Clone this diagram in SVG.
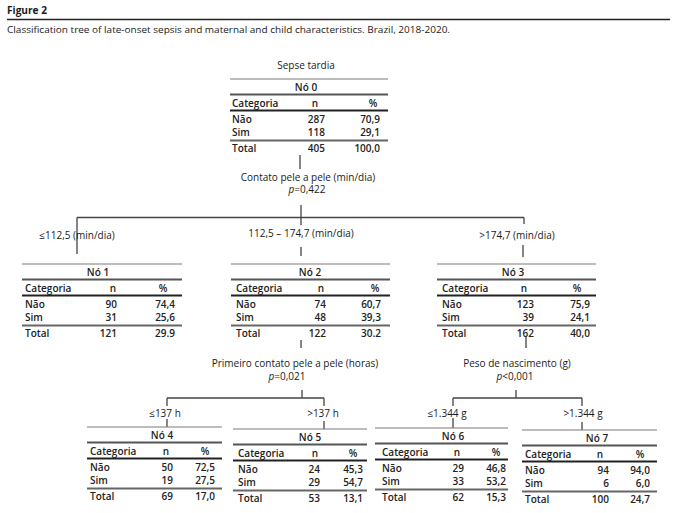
<svg xmlns="http://www.w3.org/2000/svg" width="679" height="513" viewBox="0 0 679 513">
<style>
text{font-family:"Open Sans","Noto Sans","Liberation Sans",sans-serif;fill:#1a1a1a}
.lbl{font-size:10px;text-anchor:middle}
.t{font-size:10px;font-weight:600;fill:#222}
.m{text-anchor:middle}
.e{text-anchor:end}
.top{stroke:#7a7a7a;stroke-width:1.2}
.l1{stroke:#555;stroke-width:2}
.l2{stroke:#222;stroke-width:2}
.l3{stroke:#666;stroke-width:2}
.c{stroke:#444;stroke-width:1.3;fill:none}
</style>
<rect width="679" height="513" fill="#fff"/>
<g id="header">
<text x="7" y="14" style="font-size:10.5px;font-weight:700" textLength="40" lengthAdjust="spacingAndGlyphs">Figure 2</text>
<line x1="7" y1="19.5" x2="670" y2="19.5" stroke="#222" stroke-width="1.3"/>
<text x="7" y="33" style="font-size:9px" textLength="443" lengthAdjust="spacingAndGlyphs">Classification tree of late-onset sepsis and maternal and child characteristics. Brazil, 2018-2020.</text>
</g>
<g id="connectors">
<path class="c" d="M300 155V169M301 205V217.5M77 217.5H524M77 217.5V254M301 217.5V225M301 247V256M524 217.5V224M523 245V257"/>
<path class="c" d="M301 340V348M302 390V398M167 398H324M167 398V406M167 419V427M324 398V406M324 421V429"/>
<path class="c" d="M526 337V348M516 390V398M453 398H582M453 398V406M453 418V428M582 398V406M582 422V430"/>
</g>
<g id="labels">
<text class="lbl" x="306" y="68.5">Sepse tardia</text>
<text class="lbl" x="308" y="180.5">Contato pele a pele (min/dia)</text>
<text class="lbl" x="307" y="193"><tspan font-style="italic">p</tspan>=0,422</text>
<text class="lbl" x="77" y="238.5">≤112,5 (min/dia)</text>
<text class="lbl" x="301" y="236.5">112,5 – 174,7  (min/dia)</text>
<text class="lbl" x="517" y="238.5">&gt;174,7  (min/dia)</text>
<text class="lbl" x="295" y="367">Primeiro contato pele a pele (horas)</text>
<text class="lbl" x="287" y="379.5"><tspan font-style="italic">p</tspan>=0,021</text>
<text class="lbl" x="165" y="416.5">≤137 h</text>
<text class="lbl" x="323" y="416.5">&gt;137 h</text>
<text class="lbl" x="517" y="367">Peso de nascimento (g)</text>
<text class="lbl" x="515" y="379.5"><tspan font-style="italic">p</tspan>&lt;0,001</text>
<text class="lbl" x="447" y="416.5">≤1.344 g</text>
<text class="lbl" x="583" y="416.5">&gt;1.344 g</text>
</g>
<g id="node0" transform="translate(0,79)">
<line class="top" x1="230" y1="0" x2="388" y2="0"/>
<text class="t m" x="306" y="11.5">Nó 0</text>
<line class="l1" x1="230" y1="15.5" x2="388" y2="15.5"/>
<text class="t" x="232" y="27.5">Categoria</text><text class="t m" x="315" y="27.5">n</text><text class="t m" x="373" y="27.5">%</text>
<line class="l2" x1="230" y1="31.5" x2="388" y2="31.5"/>
<text class="t" x="232" y="43.5">Não</text><text class="t e" x="325" y="43.5">287</text><text class="t e" x="380" y="43.5">70,9</text>
<text class="t" x="232" y="56.5">Sim</text><text class="t e" x="325" y="56.5">118</text><text class="t e" x="380" y="56.5">29,1</text>
<line class="l3" x1="230" y1="61.5" x2="388" y2="61.5"/>
<text class="t" x="232" y="72.5">Total</text><text class="t e" x="325" y="72.5">405</text><text class="t e" x="380" y="72.5">100,0</text>
</g>
<g id="node1" transform="translate(0,264)">
<line class="top" x1="22" y1="0" x2="182" y2="0"/>
<text class="t m" x="98" y="11.5">Nó 1</text>
<line class="l1" x1="22" y1="15.5" x2="182" y2="15.5"/>
<text class="t" x="25" y="27.5">Categoria</text><text class="t m" x="113" y="27.5">n</text><text class="t m" x="163" y="27.5">%</text>
<line class="l2" x1="22" y1="31.5" x2="182" y2="31.5"/>
<text class="t" x="25" y="43.5">Não</text><text class="t e" x="117" y="43.5">90</text><text class="t e" x="175" y="43.5">74,4</text>
<text class="t" x="25" y="56.5">Sim</text><text class="t e" x="117" y="56.5">31</text><text class="t e" x="175" y="56.5">25,6</text>
<line class="l3" x1="22" y1="61.5" x2="182" y2="61.5"/>
<text class="t" x="25" y="72.5">Total</text><text class="t e" x="117" y="72.5">121</text><text class="t e" x="175" y="72.5">29.9</text>
</g>
<g id="node2" transform="translate(0,264)">
<line class="top" x1="231" y1="0" x2="390" y2="0"/>
<text class="t m" x="310" y="11.5">Nó 2</text>
<line class="l1" x1="231" y1="15.5" x2="390" y2="15.5"/>
<text class="t" x="236" y="27.5">Categoria</text><text class="t m" x="321" y="27.5">n</text><text class="t m" x="375" y="27.5">%</text>
<line class="l2" x1="231" y1="31.5" x2="390" y2="31.5"/>
<text class="t" x="236" y="43.5">Não</text><text class="t e" x="326" y="43.5">74</text><text class="t e" x="381" y="43.5">60,7</text>
<text class="t" x="236" y="56.5">Sim</text><text class="t e" x="326" y="56.5">48</text><text class="t e" x="381" y="56.5">39,3</text>
<line class="l3" x1="231" y1="61.5" x2="390" y2="61.5"/>
<text class="t" x="236" y="72.5">Total</text><text class="t e" x="326" y="72.5">122</text><text class="t e" x="381" y="72.5">30.2</text>
</g>
<g id="node3" transform="translate(0,264)">
<line class="top" x1="437" y1="0" x2="596" y2="0"/>
<text class="t m" x="513" y="11.5">Nó 3</text>
<line class="l1" x1="437" y1="15.5" x2="596" y2="15.5"/>
<text class="t" x="442" y="27.5">Categoria</text><text class="t m" x="524" y="27.5">n</text><text class="t m" x="577" y="27.5">%</text>
<line class="l2" x1="437" y1="31.5" x2="596" y2="31.5"/>
<text class="t" x="442" y="43.5">Não</text><text class="t e" x="534" y="43.5">123</text><text class="t e" x="590" y="43.5">75,9</text>
<text class="t" x="442" y="56.5">Sim</text><text class="t e" x="534" y="56.5">39</text><text class="t e" x="590" y="56.5">24,1</text>
<line class="l3" x1="437" y1="61.5" x2="596" y2="61.5"/>
<text class="t" x="442" y="72.5">Total</text><text class="t e" x="534" y="72.5">162</text><text class="t e" x="590" y="72.5">40,0</text>
</g>
<g id="node4" transform="translate(0,427)">
<line class="top" x1="87" y1="0" x2="222" y2="0"/>
<text class="t m" x="162" y="11.5">Nó 4</text>
<line class="l1" x1="87" y1="15.5" x2="222" y2="15.5"/>
<text class="t" x="90" y="27.5">Categoria</text><text class="t m" x="166" y="27.5">n</text><text class="t m" x="205" y="27.5">%</text>
<line class="l2" x1="87" y1="31.5" x2="222" y2="31.5"/>
<text class="t" x="90" y="43.5">Não</text><text class="t e" x="173" y="43.5">50</text><text class="t e" x="215" y="43.5">72,5</text>
<text class="t" x="90" y="56.5">Sim</text><text class="t e" x="173" y="56.5">19</text><text class="t e" x="215" y="56.5">27,5</text>
<line class="l3" x1="87" y1="61.5" x2="222" y2="61.5"/>
<text class="t" x="90" y="72.5">Total</text><text class="t e" x="173" y="72.5">69</text><text class="t e" x="215" y="72.5">17,0</text>
</g>
<g id="node5" transform="translate(0,429)">
<line class="top" x1="233" y1="0" x2="367" y2="0"/>
<text class="t m" x="310" y="11.5">Nó 5</text>
<line class="l1" x1="233" y1="15.5" x2="367" y2="15.5"/>
<text class="t" x="238" y="27.5">Categoria</text><text class="t m" x="315" y="27.5">n</text><text class="t m" x="353" y="27.5">%</text>
<line class="l2" x1="233" y1="31.5" x2="367" y2="31.5"/>
<text class="t" x="238" y="43.5">Não</text><text class="t e" x="320" y="43.5">24</text><text class="t e" x="363" y="43.5">45,3</text>
<text class="t" x="238" y="56.5">Sim</text><text class="t e" x="320" y="56.5">29</text><text class="t e" x="363" y="56.5">54,7</text>
<line class="l3" x1="233" y1="61.5" x2="367" y2="61.5"/>
<text class="t" x="238" y="72.5">Total</text><text class="t e" x="320" y="72.5">53</text><text class="t e" x="363" y="72.5">13,1</text>
</g>
<g id="node6" transform="translate(0,428)">
<line class="top" x1="375" y1="0" x2="508" y2="0"/>
<text class="t m" x="453" y="11.5">Nó 6</text>
<line class="l1" x1="375" y1="15.5" x2="508" y2="15.5"/>
<text class="t" x="382" y="27.5">Categoria</text><text class="t m" x="457" y="27.5">n</text><text class="t m" x="496" y="27.5">%</text>
<line class="l2" x1="375" y1="31.5" x2="508" y2="31.5"/>
<text class="t" x="382" y="43.5">Não</text><text class="t e" x="464" y="43.5">29</text><text class="t e" x="506" y="43.5">46,8</text>
<text class="t" x="382" y="56.5">Sim</text><text class="t e" x="464" y="56.5">33</text><text class="t e" x="506" y="56.5">53,2</text>
<line class="l3" x1="375" y1="61.5" x2="508" y2="61.5"/>
<text class="t" x="382" y="72.5">Total</text><text class="t e" x="464" y="72.5">62</text><text class="t e" x="506" y="72.5">15,3</text>
</g>
<g id="node7" transform="translate(0,430)">
<line class="top" x1="522" y1="0" x2="657" y2="0"/>
<text class="t m" x="597" y="11.5">Nó 7</text>
<line class="l1" x1="522" y1="15.5" x2="657" y2="15.5"/>
<text class="t" x="525" y="27.5">Categoria</text><text class="t m" x="600" y="27.5">n</text><text class="t m" x="640" y="27.5">%</text>
<line class="l2" x1="522" y1="31.5" x2="657" y2="31.5"/>
<text class="t" x="525" y="43.5">Não</text><text class="t e" x="609" y="43.5">94</text><text class="t e" x="650" y="43.5">94,0</text>
<text class="t" x="525" y="56.5">Sim</text><text class="t e" x="609" y="56.5">6</text><text class="t e" x="650" y="56.5">6,0</text>
<line class="l3" x1="522" y1="61.5" x2="657" y2="61.5"/>
<text class="t" x="525" y="72.5">Total</text><text class="t e" x="609" y="72.5">100</text><text class="t e" x="650" y="72.5">24,7</text>
</g>
</svg>
